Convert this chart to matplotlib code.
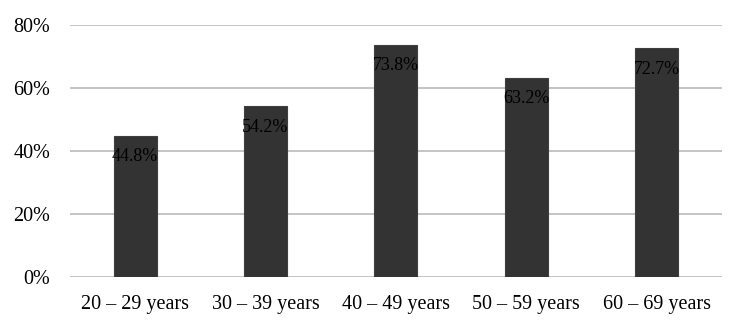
import matplotlib
matplotlib.use("Agg")
import matplotlib.pyplot as plt
from matplotlib.ticker import PercentFormatter

categories = ["20 – 29 years", "30 – 39 years", "40 – 49 years", "50 – 59 years", "60 – 69 years"]
values = [44.8, 54.2, 73.8, 63.2, 72.7]
y_ticks = [0, 20, 40, 60, 80]

plt.rcParams["font.family"] = ["Liberation Serif", "DejaVu Serif"]

fig = plt.figure(figsize=(7.44, 3.3), dpi=100)
ax = fig.add_axes([0.094, 0.1606, 0.876, 0.7636])

x = range(len(categories))
bars = ax.bar(x, values, width=0.33, color="#333333", edgecolor="#3f3f3f",
              linewidth=0.8, zorder=3)

for b, v in zip(bars, values):
    ax.annotate(f"{v:.1f}%", (b.get_x() + b.get_width() / 2, v),
                xytext=(0, -9), textcoords="offset points",
                ha="center", va="top", fontsize=13, color="black", zorder=4)

ax.set_xlim(-0.5, len(categories) - 0.5)
ax.set_ylim(0, 80)
ax.set_yticks(y_ticks)
ax.yaxis.set_major_formatter(PercentFormatter(decimals=0))
ax.set_xticks(list(x))
ax.set_xticklabels(categories)
ax.tick_params(axis="both", length=0, labelsize=14.5, colors="black")
ax.tick_params(axis="y", pad=14)
ax.tick_params(axis="x", pad=13)
ax.grid(axis="y", color="#bfbfbf", linewidth=1.3, zorder=0)
for s in ax.spines.values():
    s.set_visible(False)

fig.savefig("out.png", dpi=100)
